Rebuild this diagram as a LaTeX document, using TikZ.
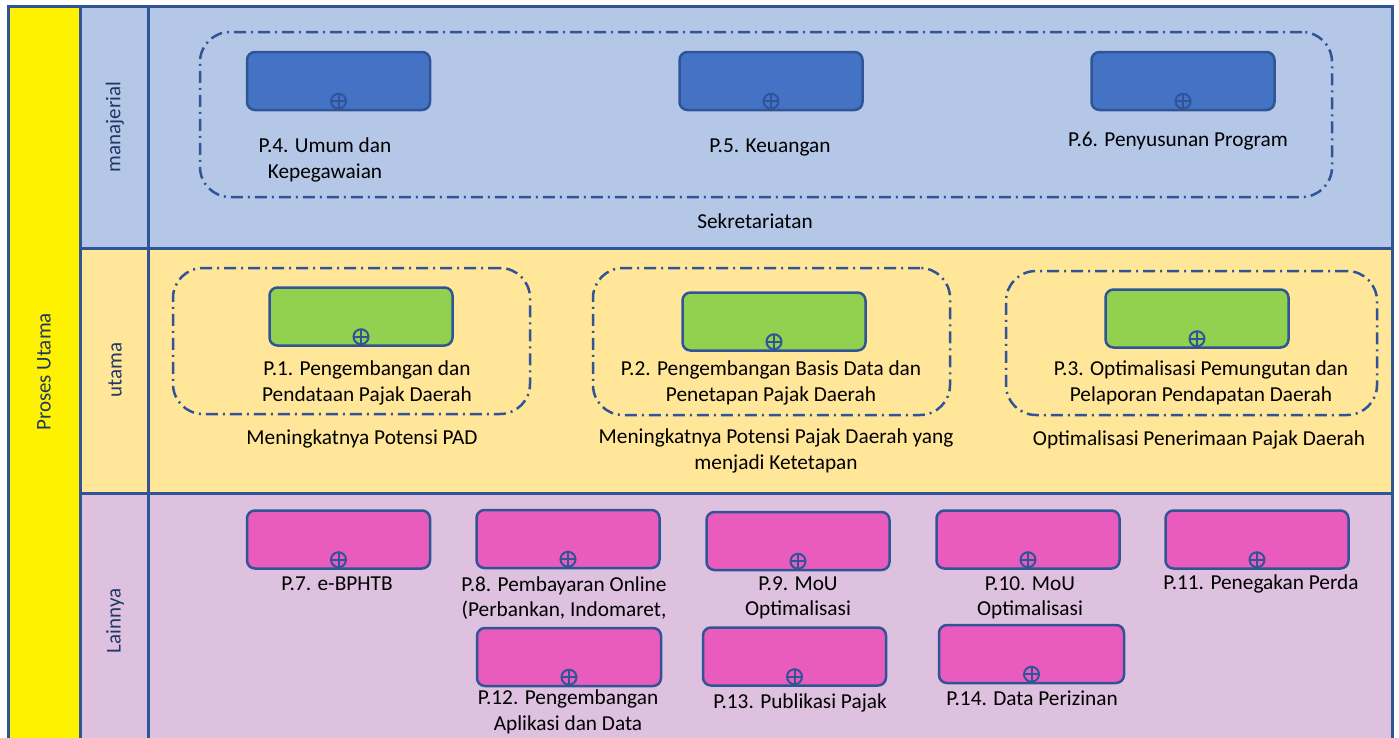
\documentclass[tikz,border=0pt]{standalone}
\usepackage{fontspec}
\setmainfont{Carlito}
\definecolor{laneline}{HTML}{2F5597}
\definecolor{lanetext}{HTML}{203864}
\definecolor{manbg}{HTML}{B4C7E7}
\definecolor{utabg}{HTML}{FFE699}
\definecolor{lainbg}{HTML}{DEC0DF}
\definecolor{bluefill}{HTML}{4472C4}
\definecolor{greenfill}{HTML}{92D050}
\definecolor{pinkfill}{HTML}{E95CBE}
\begin{document}
\begin{tikzpicture}[x=1pt,y=-1pt,
  lane/.style={draw=laneline,line width=3pt},
  lanelbl/.style={rotate=90,color=lanetext,font=\fontsize{21}{25}\selectfont},
  grp/.style={draw=laneline,line width=2.5pt,rounded corners=30pt,dash pattern=on 12pt off 5pt on 2pt off 5pt},
  task/.style={draw=laneline,line width=2.5pt,rounded corners=8pt,minimum width=183pt,minimum height=58pt,inner sep=0pt},
  plus/.style={circle,draw=laneline,line width=2pt,minimum size=15pt,inner sep=0pt,
    path picture={\draw[laneline,line width=2pt] (path picture bounding box.north) -- (path picture bounding box.south)
      (path picture bounding box.west) -- (path picture bounding box.east);}},
  lbl/.style={align=center,font=\fontsize{21.3}{25.5}\selectfont,inner sep=0pt}]
\useasboundingbox (0,0) rectangle (1399,737);
\clip (0,0) rectangle (1399,737);

\fill[color=white] (0,0) rectangle (1399,737);
\fill[color=yellow] (8,6) rectangle (80,760);
\fill[color=manbg] (80,6) rectangle (1392,248);
\fill[color=utabg] (80,248) rectangle (1392,493);
\fill[color=lainbg] (80,493) rectangle (1392,760);
\draw[style=lane] (8,760) -- (8,6) -- (1392,6) -- (1392,760);
\draw[style=lane] (80,6) -- (80,760);
\draw[style=lane] (148,6) -- (148,760);
\draw[style=lane] (80,248) -- (1392,248);
\draw[style=lane] (80,493) -- (1392,493);

\node[lanelbl] (proses) at (44,372) {Proses Utama};
\node[lanelbl] (manajerial) at (115,127) {manajerial};
\node[lanelbl] (utama) at (115,370) {utama};
\node[lanelbl] (lainnya) at (115,621) {Lainnya};

\node[grp,minimum width=1132pt,minimum height=165pt] (sekgrp) at (766,114.5) {};
\node[lbl] (sek) at (755,221) {Sekretariatan};
\node[task,fill=bluefill] (p4) at (338.5,81) {};
\node[task,fill=bluefill] (p5) at (771,81) {};
\node[task,fill=bluefill] (p6) at (1183,81) {};
\node[lbl] (p4lbl) at (325,160) {P.4. Umum dan\\Kepegawaian};
\node[lbl] (p5lbl) at (770,147) {P.5. Keuangan};
\node[lbl] (p6lbl) at (1178,141) {P.6. Penyusunan Program};

\node[grp,minimum width=357pt,minimum height=146pt] (grp1) at (351.5,341) {};
\node[grp,minimum width=357pt,minimum height=147pt] (grp2) at (771.5,341.5) {};
\node[grp,minimum width=371pt,minimum height=144pt] (grp3) at (1191.5,343) {};
\node[task,fill=greenfill] (p1) at (361,316.5) {};
\node[task,fill=greenfill] (p2) at (774,321.5) {};
\node[task,fill=greenfill] (p3) at (1197,318.5) {};
\node[lbl] (p1lbl) at (367,383) {P.1. Pengembangan dan\\Pendataan Pajak Daerah};
\node[lbl] (p2lbl) at (771,383) {P.2. Pengembangan Basis Data dan\\Penetapan Pajak Daerah};
\node[lbl] (p3lbl) at (1201,383) {P.3. Optimalisasi Pemungutan dan\\Pelaporan Pendapatan Daerah};
\node[lbl] (out1) at (362,439) {Meningkatnya Potensi PAD};
\node[lbl] (out2) at (776,451) {Meningkatnya Potensi Pajak Daerah yang\\menjadi Ketetapan};
\node[lbl] (out3) at (1199,440) {Optimalisasi Penerimaan Pajak Daerah};

\node[task,fill=pinkfill] (p7) at (338.5,539.5) {};
\node[task,fill=pinkfill] (p8) at (568,539) {};
\node[task,fill=pinkfill] (p9) at (798,541) {};
\node[task,fill=pinkfill] (p10) at (1028,539.5) {};
\node[task,fill=pinkfill] (p11) at (1257,539.5) {};
\node[task,fill=pinkfill,minimum width=184pt] (p12) at (569,657) {};
\node[task,fill=pinkfill] (p13) at (794.5,656.5) {};
\node[task,fill=pinkfill,minimum width=185pt] (p14) at (1031.5,654) {};
\node[lbl] (p7lbl) at (337,584) {P.7. e-BPHTB};
\node[lbl] (p8lbl) at (564,598) {P.8. Pembayaran Online\\(Perbankan, Indomaret,};
\node[lbl] (p9lbl) at (798,598) {P.9. MoU\\Optimalisasi};
\node[lbl] (p10lbl) at (1030,598) {P.10. MoU\\Optimalisasi};
\node[lbl] (p11lbl) at (1261,584) {P.11. Penegakan Perda};
\node[lbl] (p12lbl) at (568,712) {P.12. Pengembangan\\Aplikasi dan Data};
\node[lbl] (p13lbl) at (800,703) {P.13. Publikasi Pajak};
\node[lbl] (p14lbl) at (1032,698) {P.14. Data Perizinan};

\node[plus] (p1plus) at ([yshift=10pt]p1.south) {};
\node[plus] (p2plus) at ([yshift=10pt]p2.south) {};
\node[plus] (p3plus) at ([yshift=10pt]p3.south) {};
\node[plus] (p4plus) at ([yshift=10pt]p4.south) {};
\node[plus] (p5plus) at ([yshift=10pt]p5.south) {};
\node[plus] (p6plus) at ([yshift=10pt]p6.south) {};
\node[plus] (p7plus) at ([yshift=10pt]p7.south) {};
\node[plus] (p8plus) at ([yshift=10pt]p8.south) {};
\node[plus] (p9plus) at ([yshift=10pt]p9.south) {};
\node[plus] (p10plus) at ([yshift=10pt]p10.south) {};
\node[plus] (p11plus) at ([yshift=10pt]p11.south) {};
\node[plus] (p12plus) at ([yshift=10pt]p12.south) {};
\node[plus] (p13plus) at ([yshift=10pt]p13.south) {};
\node[plus] (p14plus) at ([yshift=10pt]p14.south) {};

\end{tikzpicture}
\end{document}
